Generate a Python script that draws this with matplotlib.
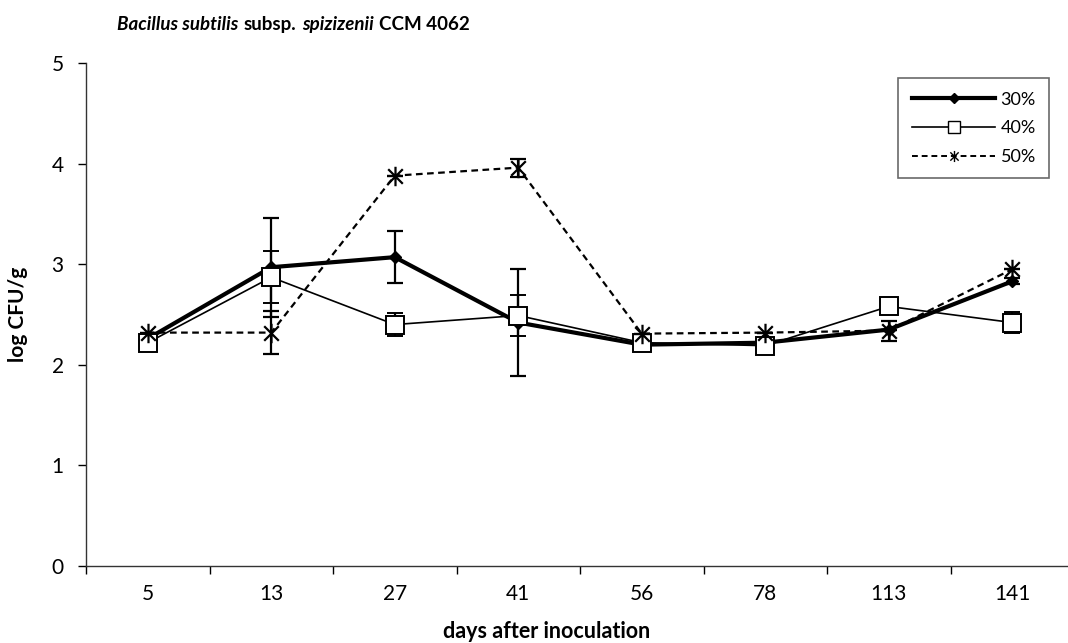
import matplotlib
matplotlib.use("Agg")
import matplotlib.pyplot as plt
from matplotlib.lines import Line2D
from matplotlib.path import Path
import numpy as np

plt.rcParams['font.family'] = ['Lato', 'DejaVu Sans']

days = ["5", "13", "27", "41", "56", "78", "113", "141"]
s30 = [2.26, 2.97, 3.07, 2.42, 2.20, 2.22, 2.35, 2.83]
e30 = [0.0, 0.49, 0.26, 0.53, 0.03, 0.0, 0.0, 0.03]
s40 = [2.22, 2.87, 2.40, 2.49, 2.22, 2.19, 2.58, 2.42]
e40 = [0.0, 0.26, 0.11, 0.20, 0.03, 0.0, 0.0, 0.10]
s50 = [2.32, 2.32, 3.88, 3.96, 2.31, 2.32, 2.34, 2.95]
e50 = [0.0, 0.21, 0.0, 0.09, 0.0, 0.0, 0.10, 0.0]
labels = ["30%", "40%", "50%"]

star = Path([(0, -1), (0, 1), (-0.75, -0.75), (0.75, 0.75), (-0.75, 0.75), (0.75, -0.75)],
            [Path.MOVETO, Path.LINETO, Path.MOVETO, Path.LINETO, Path.MOVETO, Path.LINETO])

fig = plt.figure(figsize=(10.68, 6.43), dpi=100)
ax = fig.add_axes([86/1068, 77/643, (1074-86)/1068, 503/643])

x = np.arange(len(days))

ax.errorbar(x, s30, yerr=e30, color='black', lw=3.0, marker='D', ms=6,
            ecolor='black', elinewidth=1.6, capsize=6, capthick=1.6, zorder=3)
ax.errorbar(x, s40, yerr=e40, color='black', lw=1.2, marker='s', ms=13,
            mfc='white', mec='black', mew=1.4,
            ecolor='black', elinewidth=1.6, capsize=6, capthick=1.6, zorder=4)
ax.errorbar(x, s50, yerr=e50, color='black', lw=1.6, ls=(0, (3, 2)),
            marker=star, ms=14, mew=1.6, mfc='none', mec='black',
            ecolor='black', elinewidth=1.6, capsize=6, capthick=1.6, zorder=5)

ax.set_xlim(-0.5, len(days) - 0.5)
ax.set_ylim(0, 5)
ax.set_yticks([0, 1, 2, 3, 4, 5])
ax.set_xticks(x)
ax.set_xticklabels(days)
ax.set_xticks(np.arange(-0.5, len(days)), minor=True)
ax.tick_params(axis='x', which='major', length=0, labelsize=15, pad=13)
ax.tick_params(axis='x', which='minor', length=6, width=1, direction='out')
ax.tick_params(axis='y', which='major', length=6, width=1, direction='out',
               labelsize=15, pad=10)
for sp in ['top', 'right']:
    ax.spines[sp].set_visible(False)
for sp in ['left', 'bottom']:
    ax.spines[sp].set_linewidth(1.0)
    ax.spines[sp].set_color('#333333')

ax.set_ylabel('log CFU/g', fontsize=15, fontweight='bold')
ax.yaxis.set_label_coords(-58/988, 0.5)
ax.set_xlabel('days after inoculation', fontsize=15.5, fontweight='bold')
ax.xaxis.set_label_coords((547-86)/988, -55/503)

handles = [
    Line2D([], [], color='black', lw=3.0, marker='D', ms=5),
    Line2D([], [], color='black', lw=1.2, marker='s', ms=8, mfc='white', mec='black', mew=1.0),
    Line2D([], [], color='black', lw=1.4, ls=(0, (3, 2)), marker=star, ms=8, mew=1.0, mfc='none', mec='black'),
]
leg = ax.legend(handles, labels, loc='upper right', bbox_to_anchor=(0.975, 0.97),
                frameon=True, fancybox=False, edgecolor='#444444', fontsize=13,
                handlelength=4.6, labelspacing=0.7, borderpad=0.75,
                handletextpad=0.3, borderaxespad=0)
leg.get_frame().set_linewidth(1.2)

# title with mixed italic/regular bold parts
parts = [("Bacillus subtilis", 'italic'), ("subsp.", 'normal'),
         ("spizizenii", 'italic'), ("CCM 4062", 'normal')]
t = fig.text(117/1068, 1 - 30/643, parts[0][0], fontsize=13.5, fontweight='bold',
             style=parts[0][1], va='baseline', ha='left')
prev = t
for txt, st in parts[1:]:
    prev = ax.annotate(txt, xy=(1, 0), xycoords=prev, xytext=(4, 0),
                       textcoords='offset points', fontsize=13.5,
                       fontweight='bold', style=st, va='bottom', ha='left',
                       annotation_clip=False)

fig.savefig('out.png', dpi=100)
